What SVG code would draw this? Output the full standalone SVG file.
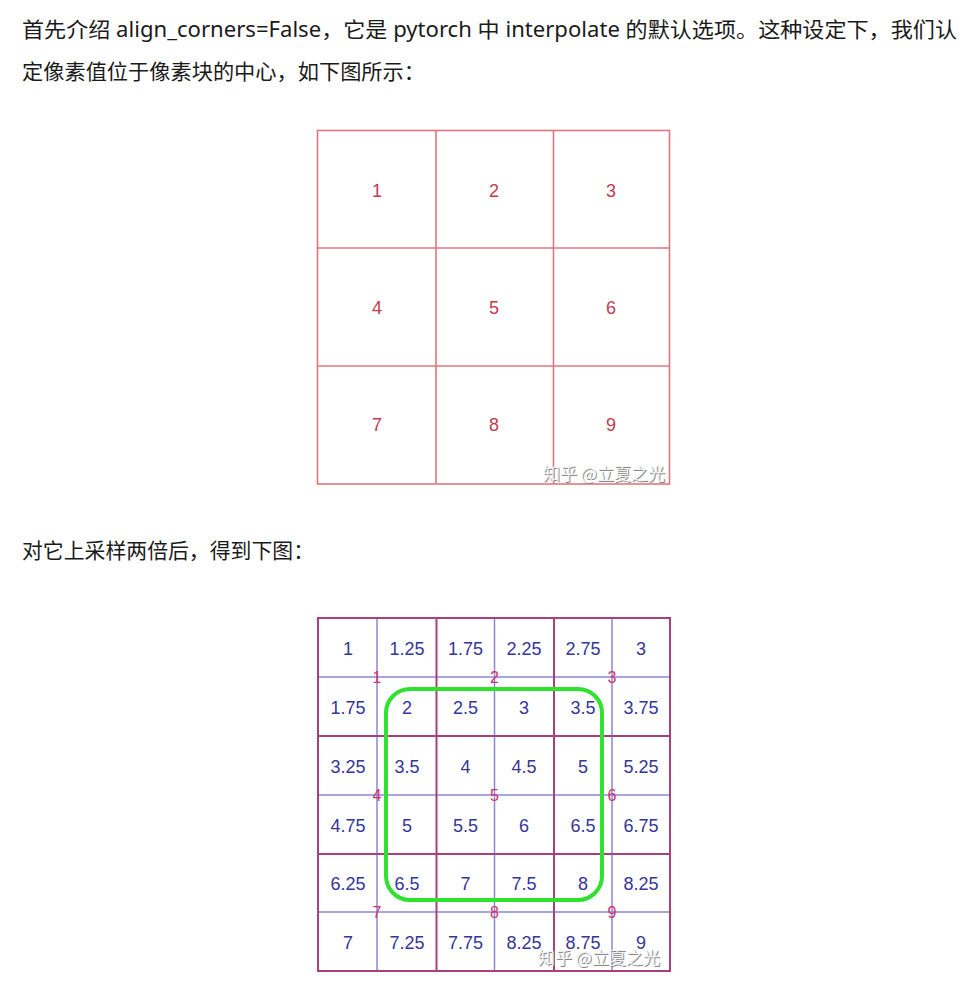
<svg xmlns="http://www.w3.org/2000/svg" width="970" height="991" viewBox="0 0 970 991">
<style>
.para{font-family:"Noto Sans","Noto Sans CJK SC",sans-serif;font-size:21px;fill:#1a1a1a}
.tg{stroke:#e27680;stroke-width:1.6;fill:none}
.tn{font-family:"Liberation Sans",Arial,sans-serif;font-size:18px;fill:#c23c50;text-anchor:middle}
.bp{stroke:#a8407c;stroke-width:2;fill:none}
.bb{stroke:#8b87d6;stroke-width:1.5;fill:none}
.bn{font-family:"Liberation Sans",Arial,sans-serif;font-size:18px;fill:#35359a;text-anchor:middle}
.rn{font-family:"Liberation Sans",Arial,sans-serif;font-size:16px;fill:#d2336e;text-anchor:middle}
.wm{font-family:"Noto Sans CJK SC",sans-serif;font-size:17px}
.wms{fill:#8a8a8a}
.wmf{fill:#f2f2f2}
</style>
<rect width="970" height="991" fill="#ffffff"/>
<g id="text">
<text class="para" x="22" y="37" textLength="935" lengthAdjust="spacingAndGlyphs">首先介绍 align_corners=False，它是 pytorch 中 interpolate 的默认选项。这种设定下，我们认</text>
<text class="para" x="22" y="79" textLength="403" lengthAdjust="spacingAndGlyphs">定像素值位于像素块的中心，如下图所示：</text>
<text class="para" x="22" y="558" textLength="292" lengthAdjust="spacingAndGlyphs">对它上采样两倍后，得到下图：</text>
</g>
<g id="grid3x3">
<rect class="tg" x="317.5" y="130.5" width="352" height="353.5"/>
<line class="tg" x1="436" y1="130.5" x2="436" y2="484"/>
<line class="tg" x1="553.5" y1="130.5" x2="553.5" y2="484"/>
<line class="tg" x1="317.5" y1="248" x2="669.5" y2="248"/>
<line class="tg" x1="317.5" y1="366" x2="669.5" y2="366"/>
<text class="tn" x="377" y="197">1</text>
<text class="tn" x="494" y="197">2</text>
<text class="tn" x="611" y="197">3</text>
<text class="tn" x="377" y="314">4</text>
<text class="tn" x="494" y="314">5</text>
<text class="tn" x="611" y="314">6</text>
<text class="tn" x="377" y="431">7</text>
<text class="tn" x="494" y="431">8</text>
<text class="tn" x="611" y="431">9</text>
<g id="wm1" class="wm">
<text class="wms" x="544" y="481">知乎 @立夏之光</text>
<text class="wmf" x="543" y="480">知乎 @立夏之光</text>
</g>
</g>
<g id="grid6x6">
<line class="bb" x1="377" y1="618" x2="377" y2="971"/>
<line class="bb" x1="494.5" y1="618" x2="494.5" y2="971"/>
<line class="bb" x1="612" y1="618" x2="612" y2="971"/>
<line class="bb" x1="318" y1="677" x2="670" y2="677"/>
<line class="bb" x1="318" y1="795" x2="670" y2="795"/>
<line class="bb" x1="318" y1="912" x2="670" y2="912"/>
<rect class="bp" x="318" y="618" width="352" height="353"/>
<line class="bp" x1="436.5" y1="618" x2="436.5" y2="971"/>
<line class="bp" x1="554" y1="618" x2="554" y2="971"/>
<line class="bp" x1="318" y1="736" x2="670" y2="736"/>
<line class="bp" x1="318" y1="854" x2="670" y2="854"/>
<g id="values">
<text class="bn" x="348" y="655">1</text>
<text class="bn" x="407" y="655">1.25</text>
<text class="bn" x="465.5" y="655">1.75</text>
<text class="bn" x="524" y="655">2.25</text>
<text class="bn" x="583" y="655">2.75</text>
<text class="bn" x="641" y="655">3</text>
<text class="bn" x="348" y="714">1.75</text>
<text class="bn" x="407" y="714">2</text>
<text class="bn" x="465.5" y="714">2.5</text>
<text class="bn" x="524" y="714">3</text>
<text class="bn" x="583" y="714">3.5</text>
<text class="bn" x="641" y="714">3.75</text>
<text class="bn" x="348" y="773">3.25</text>
<text class="bn" x="407" y="773">3.5</text>
<text class="bn" x="465.5" y="773">4</text>
<text class="bn" x="524" y="773">4.5</text>
<text class="bn" x="583" y="773">5</text>
<text class="bn" x="641" y="773">5.25</text>
<text class="bn" x="348" y="832">4.75</text>
<text class="bn" x="407" y="832">5</text>
<text class="bn" x="465.5" y="832">5.5</text>
<text class="bn" x="524" y="832">6</text>
<text class="bn" x="583" y="832">6.5</text>
<text class="bn" x="641" y="832">6.75</text>
<text class="bn" x="348" y="890">6.25</text>
<text class="bn" x="407" y="890">6.5</text>
<text class="bn" x="465.5" y="890">7</text>
<text class="bn" x="524" y="890">7.5</text>
<text class="bn" x="583" y="890">8</text>
<text class="bn" x="641" y="890">8.25</text>
<text class="bn" x="348" y="949">7</text>
<text class="bn" x="407" y="949">7.25</text>
<text class="bn" x="465.5" y="949">7.75</text>
<text class="bn" x="524" y="949">8.25</text>
<text class="bn" x="583" y="949">8.75</text>
<text class="bn" x="641" y="949">9</text>
</g>
<g id="source-pixels">
<text class="rn" x="377" y="683">1</text>
<text class="rn" x="494.5" y="683">2</text>
<text class="rn" x="612" y="683">3</text>
<text class="rn" x="377" y="801">4</text>
<text class="rn" x="494.5" y="801">5</text>
<text class="rn" x="612" y="801">6</text>
<text class="rn" x="377" y="918">7</text>
<text class="rn" x="494.5" y="918">8</text>
<text class="rn" x="612" y="918">9</text>
</g>
<rect id="highlight" x="386" y="689" width="216" height="211" rx="24" ry="24" fill="none" stroke="#2ee22e" stroke-width="4"/>
<g id="wm2" class="wm">
<text class="wms" x="539" y="965">知乎 @立夏之光</text>
<text class="wmf" x="538" y="964">知乎 @立夏之光</text>
</g>
</g>
</svg>
